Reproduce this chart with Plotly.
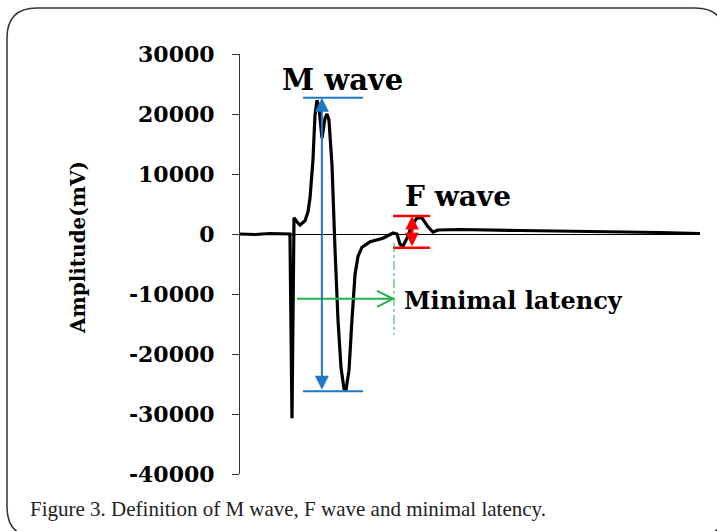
import plotly.graph_objects as go

# ---------------- data ----------------
time_ms = [0.0, 1.63, 3.26, 5.43, 5.65, 5.87, 6.20, 6.52, 7.07, 7.39, 7.61, 7.93, 8.15, 8.37,
           8.59, 8.91, 9.24, 9.46, 9.67, 10.0, 10.33, 10.65, 10.98, 11.30, 11.52, 11.85,
           12.17, 12.5, 12.83, 13.26, 14.13, 15.54, 16.63, 17.07, 17.39, 17.72, 18.15,
           18.70, 19.24, 19.78, 20.43, 20.98, 21.52, 23.91, 30.43, 39.13, 45.65, 50.0]
amplitude_mv = [0, -80, 80, 0, -30700, 2700, 2000, 1500, 2200, 3700, 6000, 12300, 19800, 22300,
                21000, 16000, 19300, 20000, 19000, 11500, -2700, -14300, -22300, -25800, -26000,
                -22700, -14300, -6800, -3700, -2200, -1300, -700, 170, 0, -1700, -2000, -700,
                1500, 2700, 2700, 1200, 330, 670, 750, 580, 420, 250, 80]

y_tick_values = [30000, 20000, 10000, 0, -10000, -20000, -30000, -40000]
y_tick_labels = ["30000", "20000", "10000", "0", "-10000", "-20000", "-30000", "-40000"]

m_wave_peak = 22700
m_wave_trough = -26200
m_arrow_t = 8.9
m_bar_t = [6.85, 13.37]

f_wave_peak = 3000
f_wave_trough = -2300
f_arrow_t = 18.7
f_bar_t = [16.63, 20.65]

latency_start_t = 6.2
latency_t = 16.63
latency_arrow_y = -10800
latency_marker_t = 16.74
latency_marker_y = [-1500, -16800]

# ---------------- geometry helpers ----------------
W, H = 717, 531
ML, MR, MT, MB = 240, 17, 54, 57
X_RANGE = [0, 50]
Y_RANGE = [-40000, 30000]
px_per_t = (W - ML - MR) / (X_RANGE[1] - X_RANGE[0])
px_per_mv = (H - MT - MB) / (Y_RANGE[1] - Y_RANGE[0])


def px_x(px):
    return (px - ML) / (W - ML - MR)


def px_y(py):
    return (H - MB - py) / (H - MT - MB)


BLUE = "#1f78c4"
RED = "#ff0000"
GREEN = "#22b14c"
BOLD = "DejaVu Serif"

fig = go.Figure()
fig.add_trace(go.Scatter(x=time_ms, y=amplitude_mv, mode="lines",
                         line=dict(color="black", width=3.2), hoverinfo="skip",
                         showlegend=False))

shapes = []
for yv in (m_wave_peak, m_wave_trough):
    shapes.append(dict(type="line", xref="x", yref="y", x0=m_bar_t[0], x1=m_bar_t[1],
                       y0=yv, y1=yv, line=dict(color=BLUE, width=2)))
for yv in (f_wave_peak, f_wave_trough):
    shapes.append(dict(type="line", xref="x", yref="y", x0=f_bar_t[0], x1=f_bar_t[1],
                       y0=yv, y1=yv, line=dict(color=RED, width=2.5)))
shapes.append(dict(type="line", xref="x", yref="y", x0=latency_start_t, x1=latency_t,
                   y0=latency_arrow_y, y1=latency_arrow_y, line=dict(color=GREEN, width=2)))
dx = 16 / px_per_t
dy = 8 / px_per_mv
shapes.append(dict(type="path", xref="x", yref="y",
                   path=f"M {latency_t - dx},{latency_arrow_y + dy} L {latency_t},{latency_arrow_y} "
                        f"L {latency_t - dx},{latency_arrow_y - dy}",
                   line=dict(color=GREEN, width=2)))
shapes.append(dict(type="line", xref="x", yref="y", x0=latency_marker_t, x1=latency_marker_t,
                   y0=latency_marker_y[0], y1=latency_marker_y[1],
                   line=dict(color=GREEN, width=1, dash="dashdot")))

L, T, R, B, r = 7, 8, 725, 537, 30
frame = (f"M {px_x(L + r)},{px_y(T)} L {px_x(R - r)},{px_y(T)} "
         f"Q {px_x(R)},{px_y(T)} {px_x(R)},{px_y(T + r)} "
         f"L {px_x(R)},{px_y(B - r)} Q {px_x(R)},{px_y(B)} {px_x(R - r)},{px_y(B)} "
         f"L {px_x(L + r)},{px_y(B)} Q {px_x(L)},{px_y(B)} {px_x(L)},{px_y(B - r)} "
         f"L {px_x(L)},{px_y(T + r)} Q {px_x(L)},{px_y(T)} {px_x(L + r)},{px_y(T)} Z")
shapes.append(dict(type="path", xref="paper", yref="paper", path=frame,
                   line=dict(color="#333333", width=1.5)))

annotations = [
    dict(x=m_arrow_t, y=m_wave_peak, ax=m_arrow_t, ay=m_wave_trough, xref="x", yref="y",
         axref="x", ayref="y", text="", showarrow=True, arrowside="end+start",
         arrowhead=2, startarrowhead=2, arrowsize=1.4, startarrowsize=1.4,
         arrowwidth=2, arrowcolor=BLUE, standoff=0, startstandoff=0),
    dict(x=f_arrow_t, y=f_wave_peak, ax=f_arrow_t, ay=f_wave_trough, xref="x", yref="y",
         axref="x", ayref="y", text="", showarrow=True, arrowside="end+start",
         arrowhead=2, startarrowhead=2, arrowsize=0.9, startarrowsize=0.9,
         arrowwidth=3, arrowcolor=RED, standoff=0, startstandoff=0),
    dict(x=11.1, y=25700, xref="x", yref="y", text="M wave", showarrow=False,
         xanchor="center", yanchor="middle",
         font=dict(family=BOLD, size=29, color="black", weight="bold")),
    dict(x=23.7, y=6300, xref="x", yref="y", text="F wave", showarrow=False,
         xanchor="center", yanchor="middle",
         font=dict(family=BOLD, size=28, color="black", weight="bold")),
    dict(x=17.6, y=-11000, xref="x", yref="y", text="Minimal latency", showarrow=False,
         xanchor="left", yanchor="middle",
         font=dict(family=BOLD, size=24, color="black", weight="bold")),
    dict(x=px_x(78), y=px_y(248), xref="paper", yref="paper", text="Amplitude(mV)",
         showarrow=False, textangle=-90, xanchor="center", yanchor="middle",
         font=dict(family=BOLD, size=20, color="black", weight="bold")),
    dict(x=px_x(28), y=px_y(509), xref="paper", yref="paper",
         text="Figure 3. Definition of M wave, F wave and minimal latency.",
         showarrow=False, xanchor="left", yanchor="middle",
         font=dict(family="Liberation Serif", size=21, color="#222222")),
]

fig.update_layout(
    width=W, height=H,
    margin=dict(l=ML, r=MR, t=MT, b=MB),
    paper_bgcolor="white", plot_bgcolor="white",
    showlegend=False,
    shapes=shapes, annotations=annotations,
    xaxis=dict(visible=False, range=X_RANGE),
    yaxis=dict(range=Y_RANGE, tickvals=y_tick_values, ticktext=y_tick_labels,
               ticks="outside", ticklen=7, tickcolor="#333333", tickwidth=1,
               showline=True, linecolor="#333333", linewidth=1,
               showgrid=False, zeroline=True, zerolinecolor="black", zerolinewidth=1,
               ticklabelstandoff=13,
               tickfont=dict(family=BOLD, size=22, color="black", weight="bold")),
)

fig.write_html("out.html", config={"displayModeBar": False},
               post_script="document.body.style.margin='0';document.body.style.overflow='hidden';")
